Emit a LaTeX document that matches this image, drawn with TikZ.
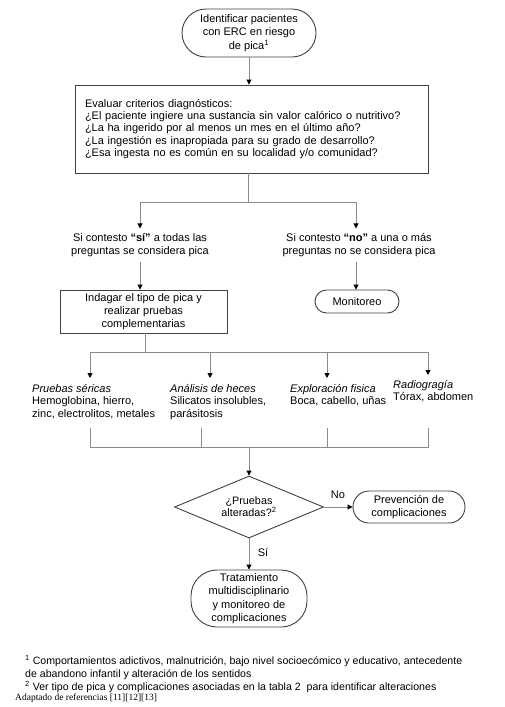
\documentclass[tikz,border=0pt]{standalone}
\usepackage{fontspec}
\setmainfont{Liberation Sans}
\newfontfamily\serifft{Liberation Serif}
\usetikzlibrary{shapes.geometric,arrows.meta}
\definecolor{linegray}{HTML}{8A8A8A}
\definecolor{boxgray}{HTML}{404040}
\begin{document}
\begin{tikzpicture}[x=1pt,y=-1pt,
  every node/.style={font=\fontsize{11}{13.3}\selectfont, text=black},
  conn/.style={draw=linegray, line width=0.9pt},
  arr/.style={conn, -{Triangle[length=5pt,width=5pt,color=black]}},
  box/.style={draw=boxgray, line width=0.9pt, inner sep=0pt, align=center},
  capsule/.style={draw=boxgray, line width=0.9pt, rounded corners=#1, inner sep=0pt, align=center},
  dec/.style={draw=boxgray, line width=0.9pt, diamond, aspect=2.4, inner sep=0pt, align=center},
  lbl/.style={align=center, inner sep=4.5pt},
  tst/.style={anchor=north west, align=left, inner xsep=0pt, inner ysep=6pt, font=\fontsize{11}{12.6}\selectfont},
  fnote/.style={anchor=base west, inner sep=0pt, font=\fontsize{10.6}{12}\selectfont}
]
\useasboundingbox (0,0) rectangle (504,707);

% top
\node[capsule=24pt, minimum width=134pt, minimum height=48pt] (start) at (249,33)
  {Identificar pacientes\\con ERC en riesgo\\de pica\textsuperscript{1}};

\node[box, minimum width=353pt, minimum height=88pt, text width=333pt, align=left,
      inner xsep=10pt, font=\fontsize{11}{12.4}\selectfont] (eval) at (251.5,129)
  {Evaluar criterios diagnósticos:\\
   ¿El paciente ingiere una sustancia sin valor calórico o nutritivo?\\
   ¿La ha ingerido por al menos un mes en el último año?\\
   ¿La ingestión es inapropiada para su grado de desarrollo?\\
   ¿Esa ingesta no es común en su localidad y/o comunidad?};

\draw[arr] (start.south) -- (start.south |- eval.north);

% first branch
\coordinate (b1) at (248,202);
\coordinate (b1l) at (140,202);
\coordinate (b1r) at (356,202);

\node[lbl] (si) at (140,245) {Si contesto \textbf{“sí”} a todas las\\preguntas se considera pica};
\node[lbl] (no) at (359,245) {Si contesto \textbf{“no”} a una o más\\preguntas no se considera pica};

\draw[conn] (eval.south -| b1) -- (b1);
\draw[conn] (b1l) -- (b1r);
\draw[arr] (b1l) -- (b1l |- si.north);
\draw[arr] (b1r) -- (b1r |- no.north);

\node[box, minimum width=167pt, minimum height=43pt, font=\fontsize{11}{13}\selectfont] (ind) at (143.5,311.5)
  {Indagar el tipo de pica y\\realizar pruebas\\complementarias};
\node[capsule=11.5pt, minimum width=84pt, minimum height=23pt] (mon) at (357,301.5) {Monitoreo};

\draw[arr] (b1l |- si.south) -- (b1l |- ind.north);
\draw[arr] (b1r |- no.south) -- (b1r |- mon.north);

% second branch
\coordinate (b2) at (145,352);
\coordinate (d1) at (90,352);
\coordinate (d2) at (210,352);
\coordinate (d3) at (327,352);
\coordinate (d4) at (428,352);

\node[tst] (t1) at (32,378) {\textit{Pruebas séricas}\\Hemoglobina, hierro,\\zinc, electrolitos, metales};
\node[tst] (t2) at (170,378) {\textit{Análisis de heces}\\Silicatos insolubles,\\parásitosis};
\node[tst] (t3) at (290,378) {\textit{Exploración fisica}\\Boca, cabello, uñas};
\node[tst, inner ysep=5pt] (t4) at (393,375) {\textit{Radiogragía}\\Tórax, abdomen};

\draw[conn] (ind.south -| b2) -- (b2);
\draw[conn] (d1) -- (d4);
\draw[arr] (d1) -- (d1 |- t1.north);
\draw[arr] (d2) -- (d2 |- t2.north);
\draw[arr] (d3) -- (d3 |- t3.north);
\draw[arr] (d4) -- (d4 |- t4.north);

% join
\coordinate (u1) at (90,428);
\coordinate (u2) at (201,428);
\coordinate (u3) at (327,428);
\coordinate (u4) at (428,428);
\coordinate (l1) at (90,447);
\coordinate (l2) at (201,447);
\coordinate (l3) at (327,447);
\coordinate (l4) at (428,447);
\coordinate (j) at (249,447);
\draw[conn] (u1) -- (l1) -- (l4) -- (u4);
\draw[conn] (u2) -- (l2);
\draw[conn] (u3) -- (l3);

\node[dec, minimum width=149pt, minimum height=62pt, font=\fontsize{10.8}{12}\selectfont] (dia) at (249,507)
  {¿Pruebas\\alteradas?\textsuperscript{2}};
\draw[arr] (j) -- (dia.north);

\node[capsule=16pt, minimum width=112pt, minimum height=32pt, font=\fontsize{11}{13}\selectfont] (prev) at (409,507)
  {Prevención de\\complicaciones};
\node[capsule=26pt, minimum width=116pt, minimum height=57pt, font=\fontsize{11}{13.3}\selectfont] (trat) at (249,598.5)
  {Tratamiento\\multidisciplinario\\y monitoreo de\\complicaciones};

\draw[arr] (dia.east) -- (prev.west);
\draw[arr] (dia.south) -- (trat.north);
\node (nolbl) at (338,495) {No};
\node (silbl) at (263,552) {Sí};

% footnotes
\node[fnote] (fn1) at (25,664) {\textsuperscript{1} Comportamientos adictivos, malnutrición, bajo nivel socioecómico y educativo, antecedente};
\node[fnote] (fn1b) at (25,677) {de abandono infantil y alteración de los sentidos};
\node[fnote] (fn2) at (25,690) {\textsuperscript{2} Ver tipo de pica y complicaciones asociadas en la tabla 2\ \ para identificar alteraciones};
\node[anchor=base west, inner sep=0pt, font=\serifft\fontsize{9.5}{11}\selectfont] (adapt) at (15,700) {Adaptado de referencias [11][12][13]};
\end{tikzpicture}
\end{document}
